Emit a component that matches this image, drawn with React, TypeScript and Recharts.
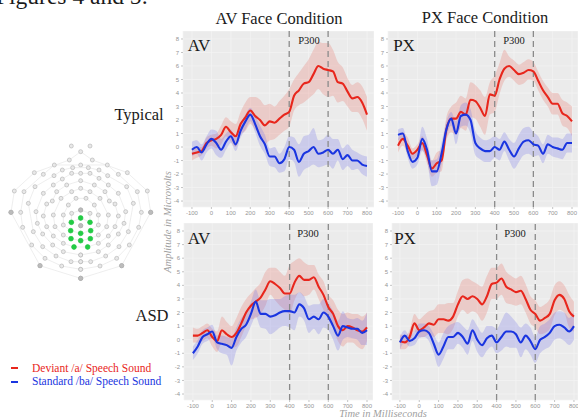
import React from 'react';
import { ComposedChart, Area, Line, XAxis, YAxis, CartesianGrid, ReferenceLine, ScatterChart, Scatter } from 'recharts';

const times = [-100,-75,-50,-25,0,25,50,75,100,125,150,175,200,225,250,275,300,325,350,375,400,425,450,475,500,525,550,575,600,625,650,675,700,725,750,775,800];
const xTicks = [-100,0,100,200,300,400,500,600,700,800];
const yTicks = [-4,-3,-2,-1,0,1,2,3,4,5,6,7,8];

// AV face, typical
const avTypDev = [-.5,-.4,-.3,.3,.5,.6,.9,1.5,1.1,.8,1.7,2.2,2.7,2.3,2,1.6,1.9,1.8,2.1,2.4,2.6,3.8,4.2,4.7,4.8,5.4,6,5.8,5.7,5.6,4.8,4.7,4.1,3.6,3.7,3.3,2.4];
const avTypDevHi = [-.1,0,0,.7,.9,1,1.6,2.2,1.9,1.7,2.6,3.3,3.7,3.7,3.5,3.1,3.2,3,3.4,3.8,4.3,5,5.5,6,6.5,7.2,7.8,7.7,7.7,7.2,6.3,5.9,5.1,4.6,4.8,4.5,3.7];
const avTypDevLo = [-1,-.8,-.6,-.1,.1,-.1,.2,.8,.4,0,.9,1.2,1.7,1.3,.9,.2,.5,.6,.9,1.2,1.5,2.7,3.1,3.3,3.6,3.9,4.3,3.9,3.7,3.8,3.3,3.4,3,2.6,2.6,2.1,1.2];
const avTypStd = [-.2,0,-.4,.2,.6,.3,-.2,.4,.8,.2,1.2,1.9,2.4,1.7,.8,.2,-.7,-.7,-1.2,-.9,0,-.2,-1.1,-.5,-.3,0,-.5,-.4,-.2,-.5,-.2,-.9,-.6,-1,-1,-1.3,-1.4];
const avTypStdHi = [.4,.5,.2,.8,1.3,1.2,.6,1,1.3,.7,1.7,2.4,2.9,2.3,1.6,.9,-.1,0,-.5,0,.8,.7,.2,.8,.9,1.4,.5,.6,.9,.6,.6,-.1,.2,-.2,-.4,-.6,-.7];
const avTypStdLo = [-.7,-.5,-1,-.4,-.1,-.6,-.8,-.2,.3,-.3,.7,1.3,1.9,1.1,.1,-.5,-1.4,-1.5,-1.9,-1.8,-.9,-1.1,-2.2,-1.7,-1.5,-1.3,-1.5,-1.4,-1.3,-1.6,-1,-1.7,-1.4,-1.7,-1.6,-2,-2.2];

// PX face, typical
const pxTypDev = [.1,.6,.1,-.5,-.2,.3,-.6,-1.6,-1.2,-1,1.3,2.1,2.1,2.6,2.4,3.5,3.4,2.9,2.3,3.9,3.8,5,5.8,6,5.7,5.4,5.5,5.7,5.6,4.9,4.2,3.7,3.2,3.2,2.5,2.3,1.9];
const pxTypDevHi = [.6,1.1,.7,-.1,.2,.8,0,-1,-.4,-.2,2.2,3,3.3,3.8,3.6,4.8,4.6,4.2,3.7,4.8,5.3,6.2,7.2,6.7,6.4,6.1,6.3,6.5,6.3,5.6,4.9,4.4,4,4,3.5,3.3,3];
const pxTypDevLo = [-.4,.1,-.5,-.9,-.6,-.2,-1.2,-2.2,-1.9,-1.8,.5,1.1,.9,1.4,1.2,2.2,2.1,1.5,.9,2.4,2.6,3.9,4.9,5.2,4.9,4.6,4.7,5,4.9,4.2,3.5,3,2.4,2.4,1.6,1.4,.8];
const pxTypStd = [.9,1,-.3,-1.1,-.8,.6,-.2,-1.8,-1.8,-.5,1.3,2.1,1,2.3,2.4,2,.3,-.1,-.3,-.3,0,-.2,.4,-.2,-.7,-.1,.4,.5,.2,.1,-.5,.2,0,-.1,-.2,.3,.3];
const pxTypStdHi = [1.3,1.4,.2,-.5,-.3,1.5,.6,-1,-.9,.3,1.9,2.6,1.9,3.1,3.3,2.8,1.2,.7,.5,.6,.8,.6,1.1,.6,.3,.9,1.4,1.5,1.1,.8,.2,.9,.7,.7,.6,1,1];
const pxTypStdLo = [.5,.6,-.8,-1.6,-1.3,-.3,-1,-2.9,-2.8,-1.3,.7,1.6,.2,1.5,1.6,1,-.6,-.9,-1.1,-1.1,-.8,-1,-.3,-1,-1.6,-1.1,-.6,-.5,-.7,-.6,-1.2,-.5,-.7,-.8,-.9,-.4,-.4];

// AV face, ASD
const avAsdDev = [.3,.3,.5,.7,.2,-.1,.7,.4,.2,.5,1.2,2,2.5,2.8,3.1,3.7,4.3,4.1,3.8,3.4,3.4,4.2,4.7,4.4,4.4,4.6,3.9,3.3,2.4,1.9,1,.7,1,.9,.7,.6,.9];
const avAsdDevHi = [.9,.8,1,1.2,.8,.6,1.7,1.3,1,1.6,2.4,3,3.4,3.8,4.2,5,5.3,5.3,5,4.7,5.5,5.8,6,5.7,5.5,5.5,4.8,4.3,3.3,2.9,2.2,1.9,2,1.9,1.9,1.7,2];
const avAsdDevLo = [-.2,-.2,-.1,.1,-.5,-.9,-.2,-.5,-.6,-.5,.2,1,1.5,1.6,1.9,2.5,3.3,2.9,2.5,2.2,1.9,2.9,3.5,3.2,3.3,3.7,3,2.2,1.5,.9,-.1,-.5,-.2,-.2,-.5,-.7,-.1];
const avAsdStd = [-1,-.5,.2,.4,.6,-.2,-.3,-.4,-.6,.2,.8,1.1,1.9,2.8,1.9,1.9,1.7,1.8,2,2.1,2.1,2,2.6,2.3,1.5,1.7,1.5,2,1.7,1,.3,1,.9,.8,.8,.5,.7];
const avAsdStdHi = [-.5,0,.7,.9,1.1,.3,.3,.2,.1,.9,1.6,2,2.8,3.7,2.9,2.9,3,3,3,3.2,3.3,3.3,3.5,3.2,2.5,2.6,2.6,3,2.7,2.1,1.4,2.1,1.6,1.5,1.6,1.4,2];
const avAsdStdLo = [-1.5,-1,-.3,-.1,.1,-.7,-1,-1.1,-1.9,-.8,-.2,.2,1,1.7,.9,.8,.4,.6,.9,1,.9,.7,1.7,1.4,.5,.8,.4,.9,.7,0,-.8,0,.2,.1,0,-.4,-.4];

// PX face, ASD
const pxAsdDev = [-.1,-.2,.2,1.2,.7,.9,1.2,1.1,1.5,1.5,1.4,1.7,2.6,3.2,3,3.2,3,2.6,3.2,4.1,4.2,4.5,3.9,3.7,3.5,3.6,3,2.2,1.9,1.4,1.6,1.9,2.9,3.3,3,2.1,1.7];
const pxAsdDevHi = [.4,.3,.7,1.9,1.5,1.8,2.1,2.2,2.6,2.6,2.7,2.7,3.6,4.4,4.5,4.3,4.1,3.9,4.7,5.3,5.3,5.6,5,4.7,4.5,4.7,4.1,3.2,2.9,2.4,2.6,3,4,4.3,4,3.3,2.8];
const pxAsdDevLo = [-.7,-.7,-.3,.6,.2,.2,.4,.2,.5,.5,.4,.8,1.7,2.2,1.9,2.1,1.9,1.4,2,3,3,3.3,2.7,2.6,2.5,2.6,2,1.2,.9,.4,.5,.8,1.8,2.2,2,.9,.6];
const pxAsdStd = [-.2,.3,-.1,.1,.6,.7,.5,-.3,-1.1,-.5,.2,.2,.5,.2,-.3,.7,0,-.4,.1,.3,-.2,.2,.6,.6,.4,-.2,.3,-.1,-.7,0,.2,.5,1,1.1,.9,.6,1];
const pxAsdStdHi = [.2,.7,.3,.6,1.2,1.2,1,.4,-.2,.5,1,1.2,1.3,1,.7,1.5,1,.5,1,1,.8,1.4,2,1.7,1.3,.9,1.2,.9,.2,1,1.2,1.5,2,2.1,2,1.6,2];
const pxAsdStdLo = [-.7,-.2,-.5,-.4,.1,.2,-.1,-1,-2,-1.4,-.7,-.7,-.3,-.6,-1.1,-.1,-.9,-1.3,-.8,-.5,-1,-.8,-.5,-.6,-.6,-1.3,-.7,-1.1,-1.7,-1,-.7,-.5,0,.1,-.1,-.4,0];

// electrode net
const ring1 = [[242,445],[120,407],[33,247],[43,183],[103,128],[208,90],[242,65],[277,90],[382,128],[442,183],[452,247],[365,407],[242,445]];
const ring2 = [[242,418],[185,408],[135,385],[95,345],[68,292],[62,247],[72,185],[130,133],[163,105],[242,105],[322,105],[355,133],[412,185],[424,247],[416,292],[388,345],[350,385],[300,408],[242,418]];
const ring3 = [[242,395],[213,395],[168,378],[128,350],[100,305],[85,220],[105,170],[162,137],[187,120],[218,113],[265,113],[297,120],[323,137],[380,170],[400,220],[385,305],[357,350],[317,378],[272,395],[242,395]];
const ring4 = [[242,375],[190,365],[158,345],[128,312],[112,280],[108,245],[130,190],[160,165],[187,147],[215,130],[242,130],[270,130],[297,145],[325,165],[355,190],[377,245],[372,280],[355,312],[325,345],[295,365],[242,375]];
const ring5 = [[222,351],[190,340],[160,318],[140,290],[130,258],[140,222],[157,213],[170,185],[200,165],[242,152],[283,165],[315,185],[328,213],[345,222],[355,258],[345,290],[325,318],[295,340],[263,351],[222,351]];
const ring6 = [[242,332],[213,326],[190,315],[165,290],[160,255],[183,205],[215,185],[242,175],[270,185],[300,205],[325,255],[320,290],[295,315],[271,326],[242,332]];
const ring7 = [[242,310],[212,302],[190,285],[190,255],[205,225],[228,205],[258,205],[283,225],[295,255],[295,285],[272,302],[242,310]];
const ring8 = [[214,277],[215,250],[242,240],[270,250],[270,277],[242,264],[214,277]];
const extraSensors = [[214,48],[270,48],[242,287]];
const greenSensors = [[214,277],[242,264],[270,277],[212,302],[272,302],[242,310],[213,326],[271,326],[242,332],[222,351],[263,351]];
const darkSensors = [[33,247],[452,247],[120,407],[365,407],[242,445],[242,240],[242,287]];

const RED = '#e8261c';
const BLUE = '#1a35e0';

const buildRows = (dev, devHi, devLo, std, stdHi, stdLo) =>
  times.map((t, i) => ({
    t,
    dev: dev[i],
    std: std[i],
    devBand: [devLo[i], devHi[i]],
    stdBand: [stdLo[i], stdHi[i]],
  }));

const toPoints = (pairs) => pairs.map(([x, y]) => ({ x, y }));

const Panel = ({ rows, left, top, width, height, xDomain }) => (
  <div style={{ position: 'absolute', left: left - 20, top }}>
    <ComposedChart
      width={width + 20}
      height={height + 14}
      data={rows}
      margin={{ top: 0, right: 0, bottom: 0, left: 0 }}
    >
      <CartesianGrid fill="#ebebeb" stroke="#f4f4f4" strokeWidth={0.7} />
      <XAxis
        dataKey="t"
        type="number"
        domain={xDomain}
        ticks={xTicks}
        interval={0}
        height={14}
        axisLine={false}
        tickSize={2}
        tickLine={{ stroke: '#c4c4c4' }}
        tick={{ fontSize: 6, fill: '#969696', fontFamily: 'Liberation Sans' }}
        allowDataOverflow
      />
      <YAxis
        type="number"
        domain={[-4.44, 8.59]}
        ticks={yTicks}
        interval={0}
        width={20}
        axisLine={false}
        tickSize={2}
        tickLine={{ stroke: '#c4c4c4' }}
        tick={{ fontSize: 6, fill: '#969696', fontFamily: 'Liberation Sans' }}
        allowDataOverflow
      />
      <Area dataKey="devBand" type="monotone" stroke="none" fill="#e86a60" fillOpacity={0.25} isAnimationActive={false} dot={false} activeDot={false} />
      <Area dataKey="stdBand" type="monotone" stroke="none" fill="#6a6ae8" fillOpacity={0.25} isAnimationActive={false} dot={false} activeDot={false} />
      <ReferenceLine x={400} stroke="#8a8a8a" strokeWidth={1.3} strokeDasharray="6 4" />
      <ReferenceLine x={600} stroke="#8a8a8a" strokeWidth={1.3} strokeDasharray="6 4" />
      <Line dataKey="dev" type="monotone" stroke={RED} strokeWidth={2.1} dot={false} activeDot={false} isAnimationActive={false} />
      <Line dataKey="std" type="monotone" stroke={BLUE} strokeWidth={2.1} dot={false} activeDot={false} isAnimationActive={false} />
    </ComposedChart>
  </div>
);

const sensorShape = (fill, stroke, r) => (props) => (
  <circle cx={props.cx} cy={props.cy} r={r} fill={fill} stroke={stroke} strokeWidth={0.6} />
);

const ScalpMap = () => {
  const rings = [ring1, ring2, ring3, ring4, ring5, ring6, ring7, ring8];
  return (
    <div style={{ position: 'absolute', left: 0, top: 130 }}>
      <ScatterChart width={170} height={160} margin={{ top: 0, right: 0, bottom: 0, left: 0 }}>
        <XAxis type="number" dataKey="x" domain={[0, 510]} hide />
        <YAxis type="number" dataKey="y" domain={[0, 480]} reversed hide />
        {rings.map((ring, i) => (
          <Scatter
            key={i}
            data={toPoints(ring)}
            line={{ stroke: '#e6e6e6', strokeWidth: 0.7 }}
            shape={sensorShape('#e8e8e8', '#b0b0b0', 2)}
            isAnimationActive={false}
          />
        ))}
        <Scatter data={toPoints(extraSensors)} shape={sensorShape('#e8e8e8', '#b0b0b0', 2)} isAnimationActive={false} />
        <Scatter data={toPoints(darkSensors)} shape={sensorShape('#bcbcbc', '#a8a8a8', 2.2)} isAnimationActive={false} />
        <Scatter data={toPoints(greenSensors)} shape={sensorShape('#22cc44', '#22cc44', 2.4)} isAnimationActive={false} />
      </ScatterChart>
    </div>
  );
};

const Label = ({ x, y, size, color = '#1a1a1a', italic, rotate, children, center }) => (
  <div
    style={{
      position: 'absolute',
      left: x,
      top: y,
      fontFamily: '"Liberation Serif", serif',
      fontSize: size,
      lineHeight: 1,
      color,
      whiteSpace: 'nowrap',
      fontStyle: italic ? 'italic' : 'normal',
      transform: `${center ? 'translate(-50%, -50%) ' : 'translateY(-50%) '}${rotate ? `rotate(${rotate}deg)` : ''}`,
    }}
  >
    {children}
  </div>
);

export default function App() {
  return (
    <div style={{ position: 'absolute', left: 0, top: 0, width: 578, height: 420, overflow: 'hidden', background: '#fff' }}>
      <Label x={-4} y={-3} size={23.5}>Figures 4 and 5:</Label>

      <Panel rows={buildRows(avTypDev, avTypDevHi, avTypDevLo, avTypStd, avTypStdHi, avTypStdLo)} left={183} top={31} width={191} height={176} xDomain={[-146, 836]} />
      <Panel rows={buildRows(pxTypDev, pxTypDevHi, pxTypDevLo, pxTypStd, pxTypStdHi, pxTypStdLo)} left={388} top={31} width={190} height={176} xDomain={[-152, 831]} />
      <Panel rows={buildRows(avAsdDev, avAsdDevHi, avAsdDevLo, avAsdStd, avAsdStdHi, avAsdStdLo)} left={184} top={223} width={189} height={177} xDomain={[-146, 831]} />
      <Panel rows={buildRows(pxAsdDev, pxAsdDevHi, pxAsdDevLo, pxAsdStd, pxAsdStdHi, pxAsdStdLo)} left={392} top={223} width={186} height={177} xDomain={[-141, 821]} />

      <ScalpMap />

      <Label x={279} y={19} size={16.5} center>AV Face Condition</Label>
      <Label x={485} y={18} size={16.5} center>PX Face Condition</Label>
      <Label x={199} y={45} size={17} center>AV</Label>
      <Label x={404} y={45} size={17} center>PX</Label>
      <Label x={199} y={238} size={17} center>AV</Label>
      <Label x={405} y={238} size={17} center>PX</Label>
      <Label x={309} y={41} size={10.5} center>P300</Label>
      <Label x={514} y={41} size={10.5} center>P300</Label>
      <Label x={308} y={234} size={10.5} center>P300</Label>
      <Label x={515} y={234} size={10.5} center>P300</Label>
      <Label x={139} y={115} size={16.5} center>Typical</Label>
      <Label x={152} y={316} size={16.5} center>ASD</Label>
      <Label x={168} y={222} size={10.5} color="#a0a0a0" italic rotate={-90} center>Amplitude in Microvolts</Label>
      <Label x={383} y={414} size={10.5} color="#a0a0a0" italic center>Time in Milliseconds</Label>

      <div style={{ position: 'absolute', left: 11, top: 367, width: 7, height: 2, background: RED }} />
      <div style={{ position: 'absolute', left: 11, top: 381, width: 7, height: 2, background: BLUE }} />
      <Label x={32} y={369} size={11.5} color={RED}>Deviant /a/ Speech Sound</Label>
      <Label x={32} y={382} size={11.5} color={BLUE}>Standard /ba/ Speech Sound</Label>
    </div>
  );
}
